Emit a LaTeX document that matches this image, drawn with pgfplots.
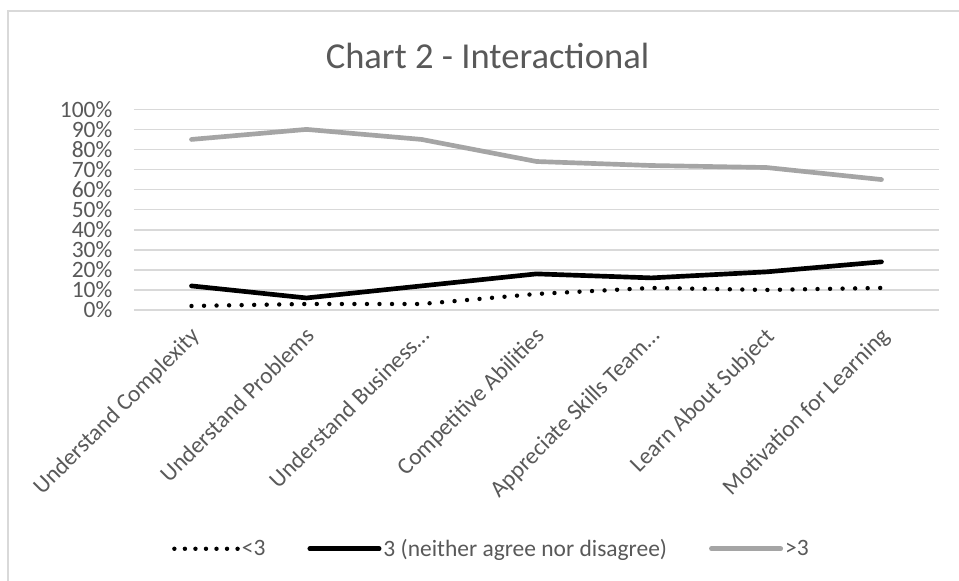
\documentclass[border=0pt]{standalone}
\usepackage{pgfplots}
\pgfplotsset{compat=1.18}
\usepackage{fontspec}
\setmainfont{Carlito}

\definecolor{txtgray}{HTML}{595959}
\definecolor{gridgray}{HTML}{D9D9D9}
\definecolor{linegray}{HTML}{A5A5A5}

\begin{document}
\begin{tikzpicture}
% canvas
\path[use as bounding box] (0,0) rectangle (719.25pt,435.75pt);
\fill[white] (0,0) rectangle (719.25pt,435.75pt);
% chart frame (left and top edges)
\draw[gridgray, line width=1.5pt] (6pt,0) -- (6pt,427.5pt) -- (719.25pt,427.5pt);

% title
\node[anchor=base, text=txtgray, font=\fontsize{27.4}{32}\selectfont, inner sep=0pt]
  at (365.6pt,384pt) {Chart 2 - Interactional};

\begin{axis}[
  at={(100.5pt,203.25pt)}, anchor=south west,
  scale only axis, width=603.75pt, height=150.5pt,
  xmin=-0.5, xmax=6.5, ymin=0, ymax=100,
  axis line style={draw=none},
  tick style={draw=none},
  ymajorgrids, grid style={gridgray, line width=1.2pt},
  ytick={0,10,...,100},
  yticklabel={\pgfmathprintnumber{\tick}\%},
  /pgf/number format/assume math mode=true,
  yticklabel style={text=txtgray, font=\fontsize{17.6}{20}\selectfont, anchor=east, inner sep=0pt, xshift=-16pt},
  xtick={0,...,6},
  xticklabels={Understand Complexity, Understand Problems, Understand Business\dots, Competitive Abilities, Appreciate Skills Team\dots, Learn About Subject, Motivation for Learning},
  xticklabel style={text=txtgray, font=\fontsize{17.6}{20}\selectfont, rotate=45, anchor=north east, inner sep=0pt, xshift=-9.6pt, yshift=-6.9pt},
  clip=false,
  legend columns=3,
  legend style={at={(0.444,-1.19)}, anchor=center, draw=none, fill=none,
    font=\fontsize{17.6}{20}\selectfont, text=txtgray,
    nodes={inner sep=1.5pt},
    /tikz/every even column/.append style={column sep=30pt}},
  legend image code/.code={\draw[#1] (0pt,0pt) -- (52pt,0pt);},
]
% below 3: round dots
\addplot[black, line width=3.3pt, line cap=round, dash pattern=on 0pt off 9.4pt,
  legend image code/.code={\draw[black, line width=3.3pt, line cap=round, dash pattern=on 0pt off 7.9pt] (2pt,0pt) -- (49.5pt,0pt);}]
  coordinates {(0,2) (1,3) (2,3) (3,8) (4,11) (5,10) (6,11)};
\addlegendentry{<3}
% neutral
\addplot[black, line width=3.5pt, line cap=round, line join=round]
  coordinates {(0,12) (1,6) (2,12) (3,18) (4,16) (5,19) (6,24)};
\addlegendentry{3 (neither agree nor disagree)}
% above 3
\addplot[linegray, line width=3.5pt, line cap=round, line join=round]
  coordinates {(0,85) (1,90) (2,85) (3,74) (4,72) (5,71) (6,65)};
\addlegendentry{>3}
\end{axis}
\end{tikzpicture}
\end{document}
